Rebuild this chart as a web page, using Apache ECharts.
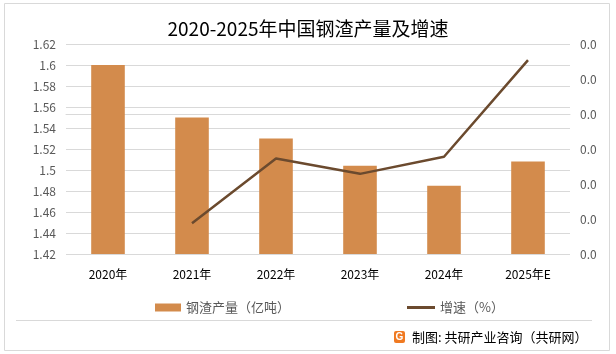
<!DOCTYPE html>
<html>
<head>
<meta charset="utf-8">
<script src="https://cdn.jsdelivr.net/npm/echarts@6/dist/echarts.min.js"></script>
<style>
  html, body { margin: 0; padding: 0; background: #fff; }
  #chart { width: 616px; height: 354px; }
</style>
</head>
<body>
<div id="chart"></div>
<script>
var years = ['2020年', '2021年', '2022年', '2023年', '2024年', '2025年E'];
var output = [1.6, 1.55, 1.53, 1.504, 1.485, 1.508];
var growth = [null, -0.0312, -0.0127, -0.0171, -0.0122, 0.0154];

var barColor = '#D38B4C';
var lineColor = '#6B4A2E';
var labelColor = '#595959';
var rule = '#D9D9D9';
var font = '"Noto Sans CJK SC", "Microsoft YaHei", sans-serif';

var chart = echarts.init(document.getElementById('chart'), null, { renderer: 'canvas' });
chart.setOption({
  animation: false,
  textStyle: { fontFamily: font },
  title: {
    text: '2020-2025年中国钢渣产量及增速',
    left: 'center',
    top: 14,
    textStyle: { fontSize: 19, fontWeight: 'normal', color: '#000', fontFamily: font }
  },
  legend: [{
    left: 150,
    top: 296,
    icon: 'rect',
    itemWidth: 26,
    itemHeight: 8,
    itemGap: 6,
    textStyle: { color: labelColor, fontSize: 13 },
    data: ['钢渣产量（亿吨）']
  }, {
    left: 402,
    top: 296,
    icon: 'rect',
    itemWidth: 28,
    itemHeight: 3,
    textStyle: { color: labelColor, fontSize: 13 },
    data: ['增速（%）']
  }],
  grid: { left: 66, right: 46, top: 44, bottom: 100 },
  xAxis: {
    type: 'category',
    data: years,
    axisTick: { show: false },
    axisLine: { lineStyle: { color: rule } },
    axisLabel: { color: '#000', fontSize: 12, margin: 14 }
  },
  yAxis: [{
    type: 'value',
    min: 1.42,
    max: 1.62,
    interval: 0.02,
    axisLine: { show: false },
    axisTick: { show: false },
    axisLabel: { color: labelColor, fontSize: 12, margin: 10 },
    splitLine: { lineStyle: { color: rule } }
  }, {
    type: 'value',
    min: -0.04,
    max: 0.02,
    interval: 0.01,
    axisLine: { show: false },
    axisTick: { show: false },
    splitLine: { show: false },
    axisLabel: {
      color: labelColor, fontSize: 12, margin: 10,
      formatter: function (v) { return Math.abs(v).toFixed(1); }
    }
  }],
  series: [{
    name: '钢渣产量（亿吨）',
    type: 'bar',
    barWidth: '40%',
    itemStyle: { color: barColor },
    data: output
  }, {
    name: '增速（%）',
    type: 'line',
    yAxisIndex: 1,
    symbol: 'none',
    itemStyle: { color: lineColor },
    lineStyle: { color: lineColor, width: 2.5 },
    data: growth
  }],
  graphic: [{
    type: 'rect',
    shape: { x: 4.5, y: 3.5, width: 605, height: 347 },
    style: { fill: 'none', stroke: rule, lineWidth: 1 },
    silent: true
  }, {
    type: 'line',
    shape: { x1: 16, y1: 320.5, x2: 592, y2: 320.5 },
    style: { stroke: rule, lineWidth: 1 },
    silent: true
  }, {
    type: 'rect',
    shape: { x: 394, y: 331, width: 11, height: 12, r: 2 },
    style: { fill: '#F07A22' },
    silent: true
  }, {
    type: 'text',
    x: 399.5,
    y: 337,
    style: { text: 'G', fill: '#fff', font: 'bold 10px sans-serif', align: 'center', verticalAlign: 'middle' },
    silent: true
  }, {
    type: 'text',
    x: 412,
    y: 337,
    style: { text: '制图: 共研产业咨询（共研网）', fill: '#000', font: '13px ' + font, verticalAlign: 'middle' },
    silent: true
  }]
});
</script>
</body>
</html>
